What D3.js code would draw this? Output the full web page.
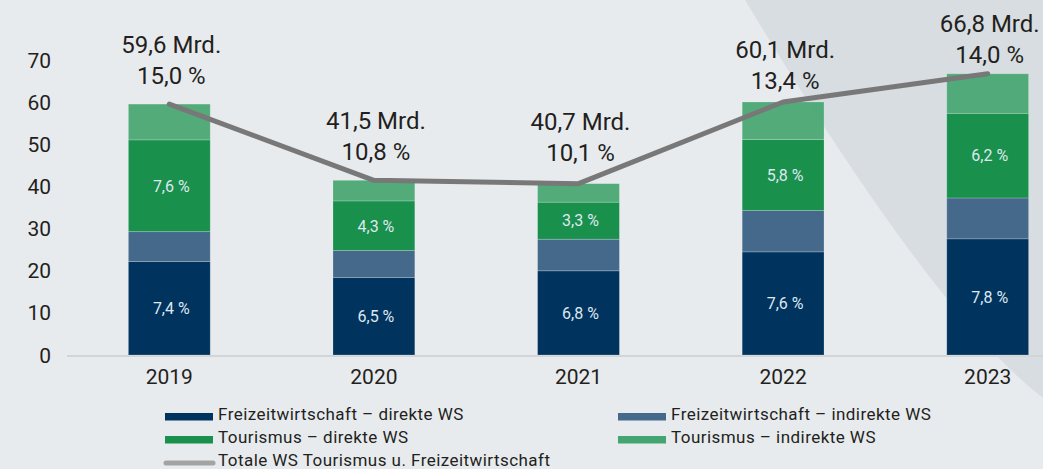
<!DOCTYPE html>
<html>
<head>
<meta charset="utf-8">
<script src="https://cdn.jsdelivr.net/npm/d3@7"></script>
<style>
  html, body { margin: 0; padding: 0; background: #e8ebee; }
  svg { display: block; }
</style>
</head>
<body>
<svg id="chart" width="1043" height="469"></svg>
<script>
//#region DATA
var years = ['2019', '2020', '2021', '2022', '2023']
var freizeitDirekt = [22.2, 18.4, 20.0, 24.5, 27.6]
var freizeitIndirekt = [7.1, 6.4, 7.5, 9.8, 9.7]
var tourismusDirekt = [21.8, 11.8, 8.8, 16.9, 20.1]
var tourismusIndirekt = [8.5, 4.9, 4.4, 8.9, 9.4]
var totals = [59.6, 41.5, 40.7, 60.1, 66.8]
var totalShare = [15.0, 10.8, 10.1, 13.4, 14.0]
var freizeitShare = [7.4, 6.5, 6.8, 7.6, 7.8]
var tourismusShare = [7.6, 4.3, 3.3, 5.8, 6.2]
var yTicks = [0, 10, 20, 30, 40, 50, 60, 70]
var seriesNames = ['Freizeitwirtschaft – direkte WS', 'Freizeitwirtschaft – indirekte WS',
    'Tourismus – direkte WS', 'Tourismus – indirekte WS']
var lineName = 'Totale WS Tourismus u. Freizeitwirtschaft'
//#endregion

const W = 1043
const H = 469
const svg = d3.select('#chart')

//#region Parameters to be tuned
var baseline = 355
var top70 = 60.3
var font = 'Roboto, "Liberation Sans", sans-serif'
var text_color = '#231f20'
var colors = ['#00345f', '#45698b', '#1a904d', '#45a570']
var line_color = '#787878'
var label_lift = [20, 20, 23, 13, 11] // gap between bar top and the share line of the label
var legend_font = '17px'
var legend_spacing = '0.45px'
//#endregion

var de = d3.formatLocale({ decimal: ',', thousands: '.', grouping: [3], currency: ['', ' €'] })
var f1 = de.format('.1f')

// background shape on the right
svg.append('rect').attr('width', W).attr('height', H).attr('fill', '#e8ebee')
svg.append('path')
    .attr('d', 'M745,0 Q935,315 1043,398 L1043,0 Z')
    .attr('fill', '#d7dde1')

var x = d3.scaleBand()
    .domain(years)
    .range([67, 1090])
    .paddingInner(0.6)
    .paddingOuter(0.3)

var y = d3.scaleLinear()
    .domain([0, 70])
    .range([baseline, top70])

// stack
var rows = years.map((yr, i) => ({
    year: yr,
    fd: freizeitDirekt[i],
    fi: freizeitIndirekt[i],
    td: tourismusDirekt[i],
    ti: tourismusIndirekt[i]
}))
var keys = ['fd', 'fi', 'td', 'ti']
var stacked = d3.stack().keys(keys)(rows)

// axis line
svg.append('line')
    .attr('x1', 67).attr('x2', W)
    .attr('y1', baseline + 1).attr('y2', baseline + 1)
    .attr('stroke', '#d2d5d8')
    .attr('stroke-width', 2)

// y ticks
svg.append('g')
    .selectAll('text')
    .data(yTicks)
    .enter()
    .append('text')
    .attr('x', 51)
    .attr('y', d => y(d))
    .attr('dy', '0.36em')
    .attr('text-anchor', 'end')
    .attr('fill', text_color)
    .style('font-family', font)
    .style('font-size', '21px')
    .text(d => d)

// x ticks
svg.append('g')
    .selectAll('text')
    .data(years)
    .enter()
    .append('text')
    .attr('x', d => x(d) + x.bandwidth() / 2)
    .attr('y', 384)
    .attr('text-anchor', 'middle')
    .attr('fill', text_color)
    .style('font-family', font)
    .style('font-size', '21px')
    .text(d => d)

// bars
var layer = svg.append('g')
    .selectAll('g')
    .data(stacked)
    .enter()
    .append('g')
    .attr('fill', (d, i) => colors[i])
    .attr('fill-opacity', (d, i) => i == 3 ? 0.92 : 1)

layer.selectAll('rect')
    .data(d => d)
    .enter()
    .append('rect')
    .attr('x', d => x(d.data.year))
    .attr('y', d => y(d[1]))
    .attr('width', x.bandwidth())
    .attr('height', d => y(d[0]) - y(d[1]))
    .attr('stroke', '#ffffff')
    .attr('stroke-opacity', 0.25)
    .attr('stroke-width', 0.8)

// in-bar labels
var inner = [
    { layer: 0, vals: freizeitShare },
    { layer: 2, vals: tourismusShare }
]
inner.forEach(function (s) {
    svg.append('g')
        .selectAll('text')
        .data(stacked[s.layer])
        .enter()
        .append('text')
        .attr('x', d => x(d.data.year) + x.bandwidth() / 2 + 2)
        .attr('y', d => (y(d[0]) + y(d[1])) / 2)
        .attr('dy', '0.36em')
        .attr('text-anchor', 'middle')
        .attr('fill', '#dfe8ef')
        .style('font-family', font)
        .style('font-size', '16px')
        .text((d, i) => f1(s.vals[i]) + ' %')
})

// total line
var line = d3.line()
    .x((d, i) => x(years[i]) + x.bandwidth() / 2)
    .y(d => y(d))

svg.append('path')
    .datum(totals)
    .attr('d', line)
    .attr('fill', 'none')
    .attr('stroke', line_color)
    .attr('stroke-width', 5)
    .attr('stroke-linecap', 'round')
    .attr('stroke-linejoin', 'round')

// total labels
var top_g = svg.append('g')
    .selectAll('g')
    .data(years)
    .enter()
    .append('g')
    .attr('transform', (d, i) => `translate(${x(d) + x.bandwidth() / 2 + 2},${y(totals[i]) - label_lift[i]})`)

top_g.append('text')
    .attr('y', -31)
    .attr('text-anchor', 'middle')
    .attr('fill', text_color)
    .style('font-family', font)
    .style('font-size', '24px')
    .text((d, i) => f1(totals[i]) + ' Mrd.')

top_g.append('text')
    .attr('y', 0)
    .attr('text-anchor', 'middle')
    .attr('fill', text_color)
    .style('font-family', font)
    .style('font-size', '24px')
    .text((d, i) => f1(totalShare[i]) + ' %')

// legend
var legend = [
    { name: seriesNames[0], c: colors[0], x: 165, y: 417 },
    { name: seriesNames[1], c: colors[1], x: 618, y: 417 },
    { name: seriesNames[2], c: colors[2], x: 165, y: 440 },
    { name: seriesNames[3], c: colors[3], x: 618, y: 440 }
]
var lg = svg.append('g')
    .selectAll('g')
    .data(legend)
    .enter()
    .append('g')
    .attr('transform', d => `translate(${d.x},${d.y})`)

lg.append('rect')
    .attr('x', 0).attr('y', -4)
    .attr('width', 48).attr('height', 7.5)
    .attr('fill', d => d.c)

lg.append('text')
    .attr('x', 53)
    .attr('y', 3)
    .attr('fill', text_color)
    .style('font-family', font)
    .style('font-size', legend_font)
    .style('letter-spacing', legend_spacing)
    .text(d => d.name)

var lgl = svg.append('g').attr('transform', 'translate(165,463)')
lgl.append('line')
    .attr('x1', 1).attr('x2', 48)
    .attr('stroke', '#a3a3a3')
    .attr('stroke-width', 5)
    .attr('stroke-linecap', 'round')
lgl.append('text')
    .attr('x', 53)
    .attr('y', 3)
    .attr('fill', text_color)
    .style('font-family', font)
    .style('font-size', legend_font)
    .style('letter-spacing', legend_spacing)
    .text(lineName)
</script>
</body>
</html>
